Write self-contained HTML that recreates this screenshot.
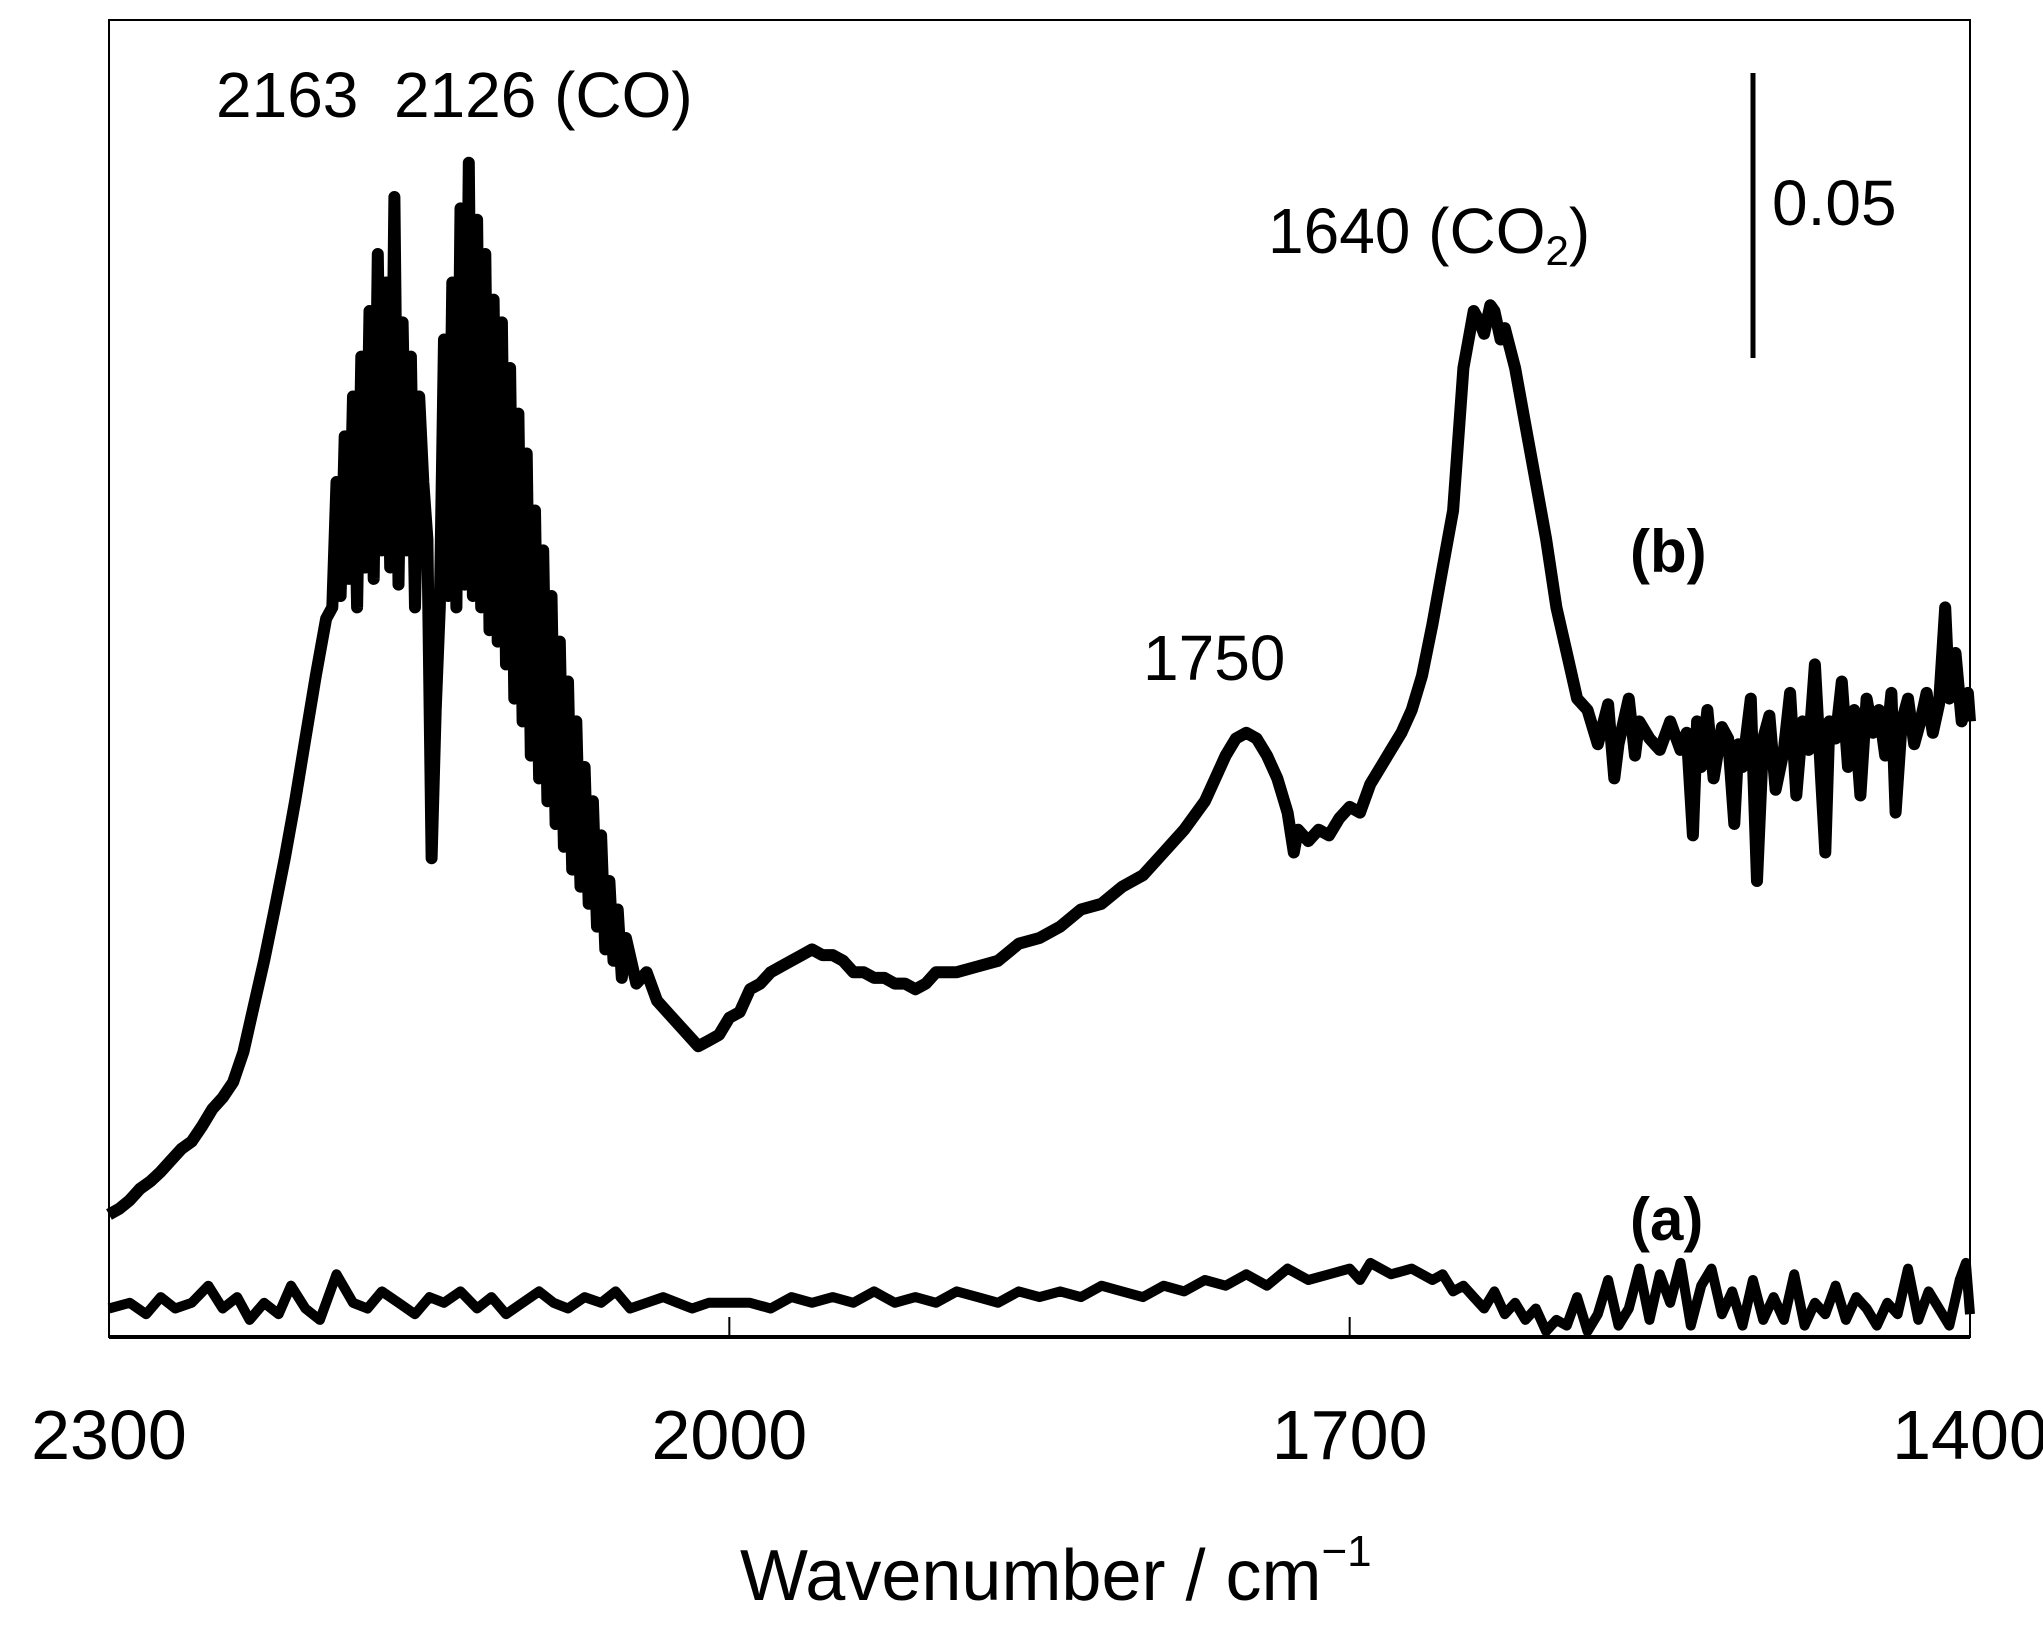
<!DOCTYPE html>
<html><head><meta charset="utf-8"><style>
html,body{margin:0;padding:0;background:#fff;}
svg{display:block;font-family:"Liberation Sans",Arial,sans-serif;}
</style></head><body>
<svg id="chart" width="2043" height="1632" viewBox="0 0 2043 1632" xmlns="http://www.w3.org/2000/svg">
<rect x="0" y="0" width="2043" height="1632" fill="#fff"/>
<g id="plot"></g>
<rect x="109" y="20" width="1861" height="1317" fill="none" stroke="#000" stroke-width="2"/>
<line x1="109" y1="1337" x2="1970" y2="1337" stroke="#000" stroke-width="4"/>
<g id="xticks"></g>
<text x="740" y="1600" font-size="72">Wavenumber / cm<tspan font-size="44" dy="-34">−1</tspan></text>
<text x="216" y="117" font-size="64">2163&#160;&#160;2126 (CO)</text>
<text x="1268" y="253" font-size="64">1640 (CO<tspan font-size="42" dy="12">2</tspan><tspan dy="-12">)</tspan></text>
<text x="1143" y="680" font-size="64">1750</text>
<text x="1630" y="572" font-size="60" font-weight="bold">(b)</text>
<text x="1630" y="1240" font-size="60" font-weight="bold">(a)</text>
<line x1="1753" y1="73" x2="1753" y2="358" stroke="#000" stroke-width="5"/>
<text x="1772" y="225" font-size="64">0.05</text>
</svg>
<script>
const xTicks = [2300, 2000, 1700, 1400];
const wnB = [2300,2295,2290,2285,2280,2275,2270,2265,2260,2255,2250,2245,2240,2235,2230,2225,2220,2215,2210,2205,2200,2195,
2192,2190,2188,2186,2184,2182,2180,2178,2176,2174,2172,2170,2168,2166,2164,2162,2160,2158,2156,2154,2152,2150,2148,2146,2144,2142,2140,2138,2136,2134,2132,2130,2128,2126,2124,2122,2120,2118,2116,2114,2112,2110,2108,2106,2104,2102,2100,2098,2096,2094,2092,2090,2088,2086,2084,2082,2080,2078,2076,2074,2072,2070,2068,2066,2064,2062,2060,2058,2056,2054,2052,2050,
2045,2040,2035,2030,2025,2020,2015,2010,2005,2000,1995,1990,1985,1980,1975,1970,1965,1960,1955,1950,1945,1940,1935,1930,1925,1920,1915,1910,1905,1900,1890,1880,1870,1860,1850,1840,1830,1820,1810,1800,1790,1780,1770,1765,1760,1755,1750,1745,1740,1735,1730,1727,1725,1720,1715,1710,1705,1700,1695,1690,1685,1680,1675,1670,1665,1660,1655,1650,1647,1645,1642,1640,1637,1635,1632,1630,1627,1625,1620,1615,1610,1605,1600,1595,1590,1585,1580,1575,1572,1570,1565,1562,1560,1555,1550,1545,1540,1537,1534,1532,1530,1527,1524,1520,1517,1514,1512,1510,1506,1503,1500,1497,1494,1490,1487,1484,1481,1478,1475,1472,1470,1468,1465,1462,1459,1456,1453,1450,1447,1444,1441,1438,1436,1433,1430,1427,1424,1421,1418,1415,1412,1410,1407,1404,1401,1400];
const absB = [.0215,.0225,.024,.026,.0273,.029,.031,.033,.0343,.037,.040,.042,.0447,.050,.058,.066,.0748,.084,.094,.105,.116,.126,
.128,.150,.130,.158,.133,.165,.128,.172,.135,.180,.133,.190,.138,.185,.135,.200,.132,.178,.138,.172,.128,.165,.150,.140,.084,.110,.128,.175,.130,.185,.128,.198,.132,.206,.130,.196,.128,.190,.124,.182,.122,.178,.118,.170,.112,.162,.108,.155,.102,.145,.098,.138,.094,.130,.090,.122,.086,.115,.082,.108,.079,.100,.076,.094,.072,.088,.068,.080,.066,.075,.063,.070,
.062,.064,.059,.057,.055,.053,.051,.052,.053,.056,.057,.061,.062,.064,.065,.066,.067,.068,.067,.067,.066,.064,.064,.063,.063,.062,.062,.061,.062,.064,.064,.065,.066,.069,.070,.072,.075,.076,.079,.081,.085,.089,.094,.098,.102,.105,.106,.105,.102,.098,.092,.085,.089,.087,.089,.088,.091,.093,.092,.097,.100,.103,.106,.110,.116,.125,.135,.145,.160,.170,.176,.180,.178,.176,.181,.180,.175,.177,.170,.160,.150,.140,.128,.120,.112,.110,.104,.111,.098,.104,.112,.102,.108,.105,.103,.108,.103,.106,.088,.108,.100,.110,.098,.107,.105,.090,.104,.100,.112,.080,.105,.109,.096,.103,.113,.095,.108,.103,.118,.098,.085,.108,.105,.115,.100,.110,.095,.112,.106,.110,.102,.113,.092,.108,.112,.104,.108,.113,.106,.111,.128,.112,.120,.108,.113,.108];
const wnA = [2300,2290,2282,2275,2268,2260,2252,2245,2238,2232,2225,2218,2212,2205,2198,2190,2182,2175,2168,2160,2152,2145,2138,2130,2122,2115,2108,2100,2092,2085,2078,2070,2062,2055,2048,2040,2032,2025,2018,2010,2000,1990,1980,1970,1960,1950,1940,1930,1920,1910,1900,1890,1880,1870,1860,1850,1840,1830,1820,1810,1800,1790,1780,1770,1760,1750,1740,1730,1720,1710,1700,1695,1690,1680,1670,1660,1655,1650,1645,1640,1635,1630,1625,1620,1615,1610,1605,1600,1595,1590,1585,1580,1575,1570,1565,1560,1555,1550,1545,1540,1535,1530,1525,1520,1515,1510,1505,1500,1495,1490,1485,1480,1475,1470,1465,1460,1455,1450,1445,1440,1435,1430,1425,1420,1415,1410,1405,1402,1400];
const absA = [.005,.006,.004,.007,.005,.006,.009,.005,.007,.003,.006,.004,.009,.005,.003,.011,.006,.005,.008,.006,.004,.007,.006,.008,.005,.007,.004,.006,.008,.006,.005,.007,.006,.008,.005,.006,.007,.006,.005,.006,.006,.006,.005,.007,.006,.007,.006,.008,.006,.007,.006,.008,.007,.006,.008,.007,.008,.007,.009,.008,.007,.009,.008,.010,.009,.011,.009,.012,.010,.011,.012,.010,.013,.011,.012,.010,.011,.008,.009,.007,.005,.008,.004,.006,.003,.005,.001,.003,.002,.007,.001,.004,.010,.002,.005,.012,.003,.011,.006,.013,.002,.009,.012,.004,.008,.002,.010,.003,.007,.003,.011,.002,.006,.004,.009,.003,.007,.005,.002,.006,.004,.012,.003,.008,.005,.002,.010,.013,.004];
const X0 = 109, X1 = 1970, Y0 = 1337;
const PX_PER_ABS = 285 / 0.05;
function xScale(w){ return X0 + (2300 - w) / 900 * (X1 - X0); }
function yScale(a){ return Y0 - a * PX_PER_ABS; }
const NS = 'http://www.w3.org/2000/svg';
const plot = document.getElementById('plot');
function drawSeries(wn, ab, name, sw){
  let d = '';
  for (let i = 0; i < wn.length; i++) d += (i ? 'L' : 'M') + xScale(wn[i]).toFixed(1) + ',' + yScale(ab[i]).toFixed(1);
  const p = document.createElementNS(NS, 'path');
  p.setAttribute('d', d);
  p.setAttribute('fill', 'none');
  p.setAttribute('stroke', '#000');
  p.setAttribute('stroke-width', sw);
  p.setAttribute('stroke-linejoin', 'round');
  
  
  plot.appendChild(p);
}
drawSeries(wnB, absB, 'spectrum-b-line', 12);
drawSeries(wnA, absA, 'spectrum-a-line', 10);
const tg = document.getElementById('xticks');
xTicks.forEach(function(t){
  const x = xScale(t);
  const l = document.createElementNS(NS, 'line');
  l.setAttribute('x1', x); l.setAttribute('x2', x);
  l.setAttribute('y1', Y0); l.setAttribute('y2', Y0 - 20);
  l.setAttribute('stroke', '#000'); l.setAttribute('stroke-width', 2);
  
  
  tg.appendChild(l);
  const tx = document.createElementNS(NS, 'text');
  tx.setAttribute('x', x); tx.setAttribute('y', 1459);
  tx.setAttribute('text-anchor', 'middle');
  tx.setAttribute('font-size', '70');
  tx.textContent = t;
  
  
  tg.appendChild(tx);
});
</script>
</body></html>
